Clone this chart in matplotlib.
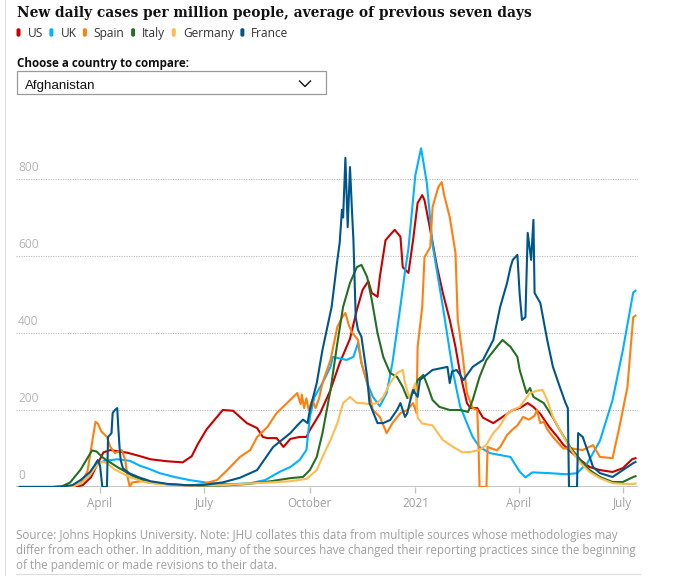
import numpy as np
import matplotlib
matplotlib.use('Agg')
import matplotlib.pyplot as plt
import matplotlib.dates as mdates
from matplotlib.patches import FancyBboxPatch, Rectangle
from matplotlib.lines import Line2D

# days counted from 2020-01-01, values = new cases per million (7-day avg)
us_day = [21, 60, 70, 76, 83, 88, 94, 100, 108, 115, 126, 135, 149, 163, 167, 171, 176, 184, 193, 198,
          207, 213, 219, 228, 233, 237, 245, 251, 257, 265, 271, 274, 283, 292, 300, 309, 315, 320, 325, 328,
          333, 335, 340, 344, 348, 353, 355, 360, 364, 368, 372, 374, 379, 385, 390, 396, 401, 405, 411, 414,
          420, 425, 434, 442, 451, 457, 464, 469, 475, 483, 490, 495, 503, 510, 518, 527, 538, 547, 555, 558]
us_val = [0, 0, 1, 5, 25, 55, 90, 96, 92, 89, 80, 72, 67, 64, 72, 80, 110, 150, 182, 200,
          198, 182, 166, 153, 130, 127, 127, 104, 125, 130, 130, 148, 192, 252, 322, 385, 460, 512, 535, 504,
          494, 545, 641, 655, 668, 650, 571, 556, 641, 738, 758, 745, 668, 571, 504, 434, 364, 296, 218, 205,
          205, 180, 166, 182, 200, 205, 218, 208, 190, 155, 130, 110, 88, 70, 52, 44, 39, 49, 72, 75]

uk_day = [21, 60, 65, 74, 82, 88, 95, 106, 117, 126, 133, 143, 156, 169, 187, 204, 222, 235, 248, 257,
          265, 271, 274, 278, 285, 292, 294, 306, 312, 316, 319, 324, 329, 335, 341, 346, 353, 357, 360, 366,
          371, 376, 381, 390, 399, 405, 411, 416, 422, 431, 440, 449, 457, 462, 468, 483, 498, 507, 516, 527,
          538, 547, 556, 558]
uk_val = [0, 0, 2, 8, 30, 60, 68, 72, 68, 55, 48, 36, 26, 18, 10, 7, 10, 18, 40, 52,
          70, 96, 182, 234, 270, 312, 338, 330, 338, 374, 322, 270, 234, 210, 244, 322, 470, 560, 620, 810,
          880, 790, 630, 468, 296, 210, 166, 130, 104, 88, 83, 78, 40, 25, 38, 36, 33, 36, 62, 120,
          226, 356, 505, 510]

spain_day = [21, 60, 67, 74, 80, 83, 87, 89, 92, 97, 100, 104, 110, 113, 115, 117, 119, 128, 140, 155,
             170, 181, 193, 202, 213, 222, 228, 237, 245, 254, 263, 266, 267, 269, 271, 273, 276, 279, 282, 285,
             292, 298, 302, 305, 308, 311, 316, 319, 324, 329, 335, 341, 346, 353, 359, 364, 367, 368, 372, 374,
             379, 381, 386, 389, 391, 396, 401, 403, 407, 411, 416, 420, 421, 422, 428, 429, 437, 440, 446, 451,
             455, 460, 465, 470, 472, 475, 478, 481, 486, 495, 503, 512, 521, 527, 538, 544, 551, 556, 558]
spain_val = [0, 0, 3, 10, 40, 96, 169, 165, 145, 130, 104, 88, 96, 70, 26, 0, 12, 15, 10, 6,
             4, 8, 18, 44, 78, 96, 130, 156, 192, 218, 244, 215, 240, 205, 230, 200, 226, 205, 230, 270,
             330, 416, 440, 452, 420, 400, 382, 322, 270, 200, 182, 140, 166, 192, 200, 218, 192, 364, 468, 597,
             623, 727, 779, 792, 760, 701, 608, 434, 348, 244, 205, 200, 120, 0, 0, 104, 95, 104, 135, 150,
             160, 182, 175, 185, 200, 166, 170, 150, 130, 100, 100, 96, 109, 78, 75, 156, 260, 441, 445]

italy_day = [21, 50, 58, 65, 74, 78, 84, 88, 94, 106, 120, 133, 150, 165, 181, 200, 220, 240, 257, 268,
             274, 280, 285, 292, 298, 303, 309, 315, 319, 324, 328, 333, 338, 344, 350, 355, 359, 364, 368, 373,
             377, 381, 387, 396, 405, 412, 416, 422, 428, 437, 442, 449, 455, 457, 463, 466, 469, 478, 486, 492,
             501, 510, 518, 527, 538, 547, 556, 558]
italy_val = [0, 0, 2, 12, 45, 65, 95, 92, 75, 52, 28, 12, 7, 5, 3, 4, 8, 15, 23, 26,
             44, 78, 140, 252, 374, 468, 530, 571, 577, 545, 486, 400, 338, 296, 286, 260, 231, 244, 278, 291,
             260, 226, 208, 200, 200, 195, 226, 286, 330, 364, 382, 364, 338, 304, 244, 257, 234, 218, 180, 148,
             104, 70, 44, 26, 13, 13, 26, 28]

germany_day = [21, 60, 68, 75, 82, 88, 93, 97, 104, 117, 128, 140, 160, 181, 200, 220, 240, 257, 271, 280,
               285, 292, 298, 303, 309, 315, 320, 326, 333, 338, 344, 350, 355, 357, 361, 366, 368, 372, 381, 390,
               399, 407, 414, 422, 428, 434, 440, 446, 451, 457, 466, 472, 477, 481, 486, 492, 501, 510, 518, 527,
               538, 547, 556, 558]
germany_val = [0, 0, 2, 10, 30, 55, 65, 62, 45, 26, 14, 8, 5, 4, 5, 9, 12, 15, 21, 44,
               78, 122, 166, 218, 234, 218, 218, 215, 218, 234, 270, 296, 304, 270, 230, 270, 180, 165, 160, 122,
               104, 90, 91, 96, 110, 140, 160, 190, 200, 208, 244, 250, 252, 226, 182, 148, 100, 62, 39, 23,
               10, 8, 8, 9]

france_day = [21, 50, 58, 67, 74, 82, 86, 89, 91, 93, 97, 98, 101, 102, 104, 106, 107, 108, 109, 111,
              117, 125, 135, 150, 165, 181, 198, 213, 228, 242, 257, 263, 268, 272, 274, 280, 285, 293, 298, 300,
              302, 303, 305, 307, 309, 311, 312, 314, 316, 319, 324, 326, 333, 338, 344, 350, 353, 357, 359, 361,
              364, 368, 370, 381, 394, 396, 398, 402, 408, 416, 425, 434, 440, 446, 449, 451, 455, 457, 459, 462,
              464, 467, 469, 470, 475, 481, 486, 492, 497, 499, 500, 507, 508, 512, 516, 521, 527, 538, 547, 556, 558]
france_val = [0, 0, 1, 5, 18, 38, 55, 70, 55, 0, 0, 130, 140, 192, 200, 205, 150, 104, 70, 48,
              35, 25, 15, 8, 5, 5, 12, 24, 44, 104, 140, 160, 175, 166, 200, 270, 356, 468, 590, 634,
              720, 700, 855, 675, 831, 701, 641, 441, 408, 390, 286, 218, 166, 166, 174, 200, 218, 182, 192, 218,
              252, 234, 278, 304, 312, 270, 300, 304, 278, 312, 330, 382, 468, 530, 571, 590, 603, 500, 434, 441,
              660, 590, 694, 504, 478, 382, 312, 260, 218, 205, 0, 0, 140, 130, 96, 52, 36, 26, 44, 62, 65]

countries = ['US', 'UK', 'Spain', 'Italy', 'Germany', 'France']
colors = ['#c70000', '#00b2ff', '#ff7f0f', '#256f22', '#ffbb50', '#005689']
days = [us_day, uk_day, spain_day, italy_day, germany_day, france_day]
vals = [us_val, uk_val, spain_val, italy_val, germany_val, france_val]

tick_dates = ['2020-04-01', '2020-07-01', '2020-10-01', '2021-01-01', '2021-04-01', '2021-07-01']
tick_labels = ['April', 'July', 'October', '2021', 'April', 'July']
y_ticks = [0, 200, 400, 600, 800]

W, H = 684, 576
fig = plt.figure(figsize=(W / 100, H / 100), dpi=100)
fx = lambda x: x / W
fy = lambda y: 1 - y / H

sans = 'Open Sans'
grey_txt = '#a0a0a0'

ax = fig.add_axes([fx(16), fy(487), (638 - 16) / W, (487 - 140.5) / H])
t0 = mdates.date2num(np.datetime64('2020-01-01'))
for c, d, v, col in zip(countries, days, vals, colors):
    ax.plot(t0 + np.array(d), v, color=col, lw=1.5, solid_joinstyle='round', zorder=3)

ax.set_xlim(t0 + 17.7, t0 + 560.2)
ax.set_ylim(0, 900)
for v in y_ticks[1:]:
    ax.axhline(v, color='#b8b8b8', lw=0.8, ls=(0, (1, 1.2)), zorder=1)
ax.axhline(0, color='#c4c4c4', lw=1.4, zorder=2)
for v in y_ticks:
    ax.annotate(str(v), xy=(0, v), xycoords=('axes fraction', 'data'), xytext=(1.5, 5.8),
                textcoords='offset points', ha='left', va='baseline', color='#b5b5b5',
                fontsize=8.6, family=sans)
for s in ax.spines.values():
    s.set_visible(False)
ax.set_yticks([])
ax.set_xticks([mdates.date2num(np.datetime64(t)) for t in tick_dates])
ax.set_xticklabels(tick_labels, family=sans, fontsize=8.4, color=grey_txt)
ax.tick_params(axis='x', length=4, width=1, color='#c4c4c4', pad=3.5)

# header
fig.text(fx(17), fy(16.7), 'New daily cases per million people, average of previous seven days',
         family='DejaVu Serif', fontstretch='condensed', fontweight='bold', fontsize=11, color='#121212',
         va='baseline')

renderer = fig.canvas.get_renderer()
x = 16.5
for c, col in zip(countries, colors):
    fig.add_artist(FancyBboxPatch((fx(x), fy(36.7)), 4 / W, 8.5 / H, boxstyle='round,pad=0,rounding_size=0.003',
                                  transform=fig.transFigure, facecolor=col, edgecolor='none'))
    t = fig.text(fx(x + 11), fy(36.7), c, family=sans, fontsize=8.6, color='#333333', va='baseline')
    bb = t.get_window_extent(renderer)
    x = bb.x1 + 6.5

fig.text(fx(17), fy(66.7), 'Choose a country to compare:', family=sans, fontweight='bold', fontsize=8.4,
         color='#121212', va='baseline')
fig.add_artist(Rectangle((fx(16.5), fy(94)), (325.5 - 16.5) / W, (94 - 71) / H, transform=fig.transFigure,
                         fill=False, edgecolor='#9a9a9a', lw=0.9))
fig.text(fx(25), fy(89), 'Afghanistan', family='Liberation Sans', fontsize=9.6, color='#121212', va='baseline')
fig.add_artist(Line2D([fx(299.5), fx(305), fx(310.5)], [fy(81), fy(86.5), fy(81)], transform=fig.transFigure,
                      color='#121212', lw=1.0))

source = ['Source: Johns Hopkins University. Note: JHU collates this data from multiple sources whose methodologies may',
          'differ from each other. In addition, many of the sources have changed their reporting practices since the beginning',
          'of the pandemic or made revisions to their data.']
for i, line in enumerate(source):
    fig.text(fx(16.5), fy(539 + 15 * i), line, family=sans, fontsize=8.35, color=grey_txt, va='baseline')

fig.add_artist(Line2D([fx(16), fx(640)], [fy(574), fy(574)], transform=fig.transFigure, color='#dcdcdc', lw=0.8))
fig.add_artist(Line2D([fx(4.5), fx(4.5)], [0, 1], transform=fig.transFigure, color='#dcdcdc', lw=0.8))

fig.savefig('out.png', dpi=100)
